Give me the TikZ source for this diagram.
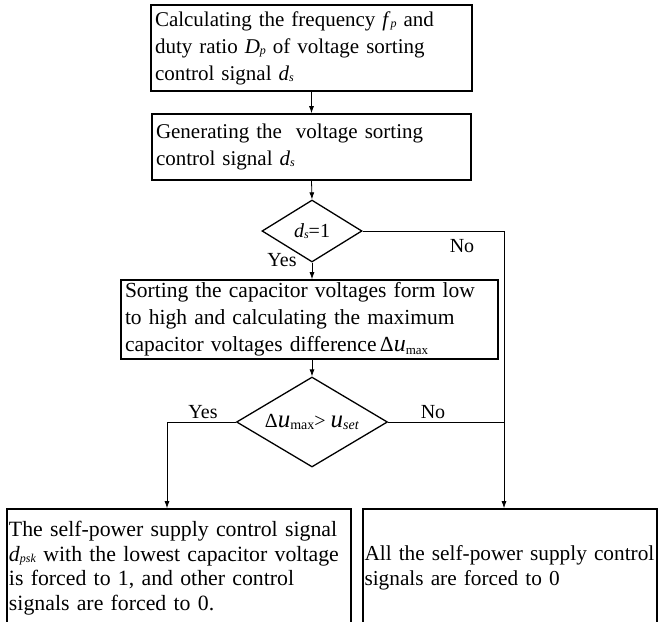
\documentclass[tikz,border=0pt]{standalone}
\usepackage{fontspec}
\setmainfont{Liberation Serif}
\usetikzlibrary{shapes.geometric,arrows.meta}
\newcommand\isub[2]{\textit{#1}{\fontsize{12}{12}\selectfont\raisebox{-0.25ex}{\textit{#2}}}}
\begin{document}
\begin{tikzpicture}[x=1pt,y=-1pt,
  box/.style={draw, line width=1.6pt, inner xsep=3.5pt, inner ysep=2pt, align=left,
    font=\fontsize{21}{27}\selectfont},
  lowbox/.style={box, font=\fontsize{21.8}{24.5}\selectfont, inner xsep=2pt},
  dia/.style={draw, diamond, line width=1.3pt, inner sep=0pt, aspect=1.65,
    font=\fontsize{20}{24}\selectfont},
  lbl/.style={font=\fontsize{20}{24}\selectfont, inner sep=0pt},
  arr/.style={line width=0.8pt, -{Latex[length=7pt,width=5pt]}},
  ln/.style={line width=0.8pt}]
\useasboundingbox (0,0) rectangle (660,621);
\fill[white] (0,0) rectangle (660,621);

\node[box, minimum width=321pt, minimum height=86pt, text width=313pt] (b1) at (311.5,48)
  {Calculating the frequency \isub{f}{p} and\\duty ratio \isub{D}{p} of voltage sorting\\control signal \isub{d}{s}};
\node[box, minimum width=319pt, minimum height=66pt, text width=311pt] (b2) at (311.5,147)
  {Generating the\ \ voltage sorting\\control signal \isub{d}{s}};
\node[dia, minimum width=100pt, minimum height=62pt] (d1) at (312,231) {\isub{d}{s}=1};
\node[box, font=\fontsize{21.5}{27}\selectfont, minimum width=377pt, minimum height=79pt, text width=369pt] (b3) at (309.5,319.5)
  {Sorting the capacitor voltages form low\\to high and calculating the maximum\\capacitor voltages difference$\,$Δ{\fontsize{24}{24}\selectfont\textit{u}}{\fontsize{13}{13}\selectfont\raisebox{-0.4ex}{max}}};
\node[dia, minimum width=151pt, minimum height=90pt] (d2) at (312,422)
  {Δ{\fontsize{25}{25}\selectfont\textit{u}}{\fontsize{14}{14}\selectfont\raisebox{-0.45ex}{max}}> {\fontsize{25}{25}\selectfont\textit{u}}{\fontsize{14}{14}\selectfont\raisebox{-0.45ex}{\textit{set}}}};
\node[lowbox, minimum width=344pt, minimum height=118pt, text width=340pt] (b4) at (179,568)
  {The self-power supply control signal\\\isub{d}{psk} with the lowest capacitor voltage\\is forced to 1, and other control\\signals are forced to 0.};
\node[lowbox, font=\fontsize{21.3}{24.5}\selectfont, inner xsep=1.5pt, minimum width=294pt, minimum height=118pt, text width=291pt] (b5) at (510,568)
  {\mbox{All the self-power supply control}\\signals are forced to 0};

\coordinate (c1) at (504,231);
\coordinate (c2) at (167,422);

\draw[arr] (b1.south) -- (b2.north);
\draw[arr] (b2.south) -- (d1.north);
\draw[arr] (d1.south) -- (d1.south |- b3.north);
\draw[arr] (b3.south -| d2.north) -- (d2.north);
\draw[arr] (d1.east) -| (b5.north -| c1);
\draw[arr] (d2.west) -| (b4.north -| c2);
\draw[ln] (d2.east) -- (c1 |- d2.east);

\node[lbl] (yes1) at (282,260) {Yes};
\node[lbl] (no1) at (462,246) {No};
\node[lbl] (yes2) at (203,412) {Yes};
\node[lbl] (no2) at (433,412) {No};
\end{tikzpicture}
\end{document}
